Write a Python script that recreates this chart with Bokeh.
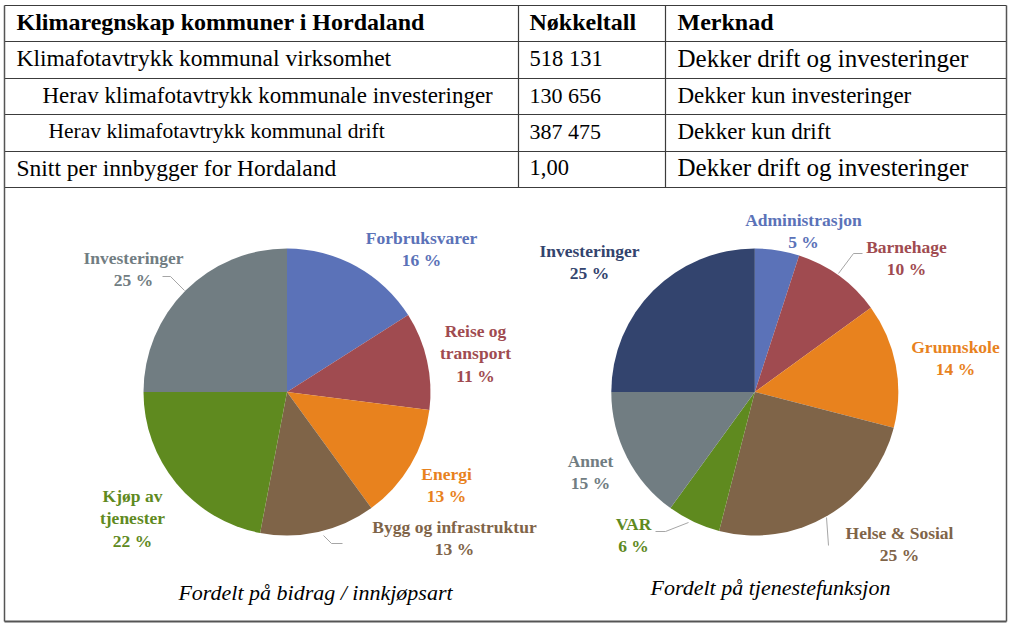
import math
from bokeh.plotting import figure
from bokeh.models import Range1d, ColumnDataSource
from bokeh.core.properties import value
from bokeh.embed import file_html
from bokeh.resources import INLINE

# ---------------- data ----------------
table_header = ["Klimaregnskap kommuner i Hordaland", "Nøkkeltall", "Merknad"]
table_rows = ["Klimafotavtrykk kommunal virksomhet",
              "Herav klimafotavtrykk kommunale investeringer",
              "Herav klimafotavtrykk kommunal drift",
              "Snitt per innbygger for Hordaland"]
table_values = ["518 131", "130 656", "387 475", "1,00"]
table_notes = ["Dekker drift og investeringer", "Dekker kun investeringer",
               "Dekker kun drift", "Dekker drift og investeringer"]

left_title = "Fordelt på bidrag / innkjøpsart"
left_cats = ["Forbruksvarer", "Reise og\ntransport", "Energi",
             "Bygg og infrastruktur", "Kjøp av\ntjenester", "Investeringer"]
left_vals = [16, 11, 13, 13, 22, 25]

right_title = "Fordelt på tjenestefunksjon"
right_cats = ["Administrasjon", "Barnehage", "Grunnskole", "Helse & Sosial",
              "VAR", "Annet", "Investeringer"]
right_vals = [5, 10, 14, 25, 6, 15, 25]

# ---------------- styles ----------------
BLUE, RED, ORANGE, BROWN = "#5B72B8", "#A04B50", "#E8821E", "#7F6448"
GREEN, GRAY, NAVY = "#5F8A1F", "#717D82", "#33446E"
left_colors = [BLUE, RED, ORANGE, BROWN, GREEN, GRAY]
right_colors = [BLUE, RED, ORANGE, BROWN, GREEN, GRAY, NAVY]

W, H = 1008, 623
SERIF = "Liberation Serif"
RIGHT = 1006
BOTTOM = 621


def Y(y):
    return H - y


def fs(px):
    return f"{px:.1f}px"


p = figure(width=W, height=H, x_range=Range1d(0, W), y_range=Range1d(0, H),
           output_backend="svg", toolbar_location=None, min_border=0)
p.axis.visible = False
p.grid.visible = False
p.outline_line_color = None
p.background_fill_color = "white"
p.border_fill_color = "white"

# ---------------- table ----------------
LINE = "#3c3c3c"
hlines = [5, 41, 78, 114, 151, 187]
p.multi_line(xs=[[4, RIGHT]] * len(hlines), ys=[[Y(h), Y(h)] for h in hlines],
             line_color=LINE, line_width=1.2)
p.multi_line(xs=[[518, 518], [665, 665]], ys=[[Y(5), Y(187)]] * 2,
             line_color=LINE, line_width=1.2)
# outer frame
p.multi_line(xs=[[4, 4], [RIGHT, RIGHT]], ys=[[Y(5), Y(BOTTOM)]] * 2,
             line_color="#555555", line_width=1.5)
p.line(x=[4, RIGHT], y=[Y(BOTTOM), Y(BOTTOM)], line_color="#555555", line_width=2)

col_x = [16, 529, 677]
header_y = 21.5
hdr_sizes = [24, 24, 24]
for i, t in enumerate(table_header):
    p.text(x=[col_x[i]], y=[Y(header_y)], text=[t], text_font=value(SERIF),
           text_font_style="bold", text_font_size=fs(hdr_sizes[i]),
           text_baseline="middle", text_align="left", text_color="black")

row_y = [57.5, 94.5, 130.5, 167]
row_indent = [16, 42, 48, 16]
row_size = [23.5, 23, 21.5, 23.5]
val_size = [22.5, 22, 22, 22.5]
note_size = [25, 23, 23, 25]
for i in range(4):
    p.text(x=[row_indent[i]], y=[Y(row_y[i])], text=[table_rows[i]],
           text_font=value(SERIF), text_font_size=fs(row_size[i]),
           text_baseline="middle", text_color="black")
    p.text(x=[col_x[1]], y=[Y(row_y[i])], text=[table_values[i]],
           text_font=value(SERIF), text_font_size=fs(val_size[i]),
           text_baseline="middle", text_color="black")
    p.text(x=[col_x[2]], y=[Y(row_y[i])], text=[table_notes[i]],
           text_font=value(SERIF), text_font_size=fs(note_size[i]),
           text_baseline="middle", text_color="black")


# ---------------- pies ----------------
def pie(cx, cy, r, vals, colors):
    total = float(sum(vals))
    starts, ends = [], []
    cum = 0.0
    for v in vals:
        starts.append(math.pi / 2 - 2 * math.pi * cum / total)
        cum += v
        ends.append(math.pi / 2 - 2 * math.pi * cum / total)
    src = ColumnDataSource(dict(x=[cx] * len(vals), y=[Y(cy)] * len(vals),
                                start=starts, end=ends, color=colors))
    p.wedge(x="x", y="y", radius=r, start_angle="start", end_angle="end",
            direction="clock", fill_color="color", line_color=None, source=src)


pie(286.5, 391.5, 143.5, left_vals, left_colors)
pie(754.3, 391.5, 143.5, right_vals, right_colors)

LBL = 17.5


def labels(cats, vals, colors, pos):
    for c, v, col, (lx, ly) in zip(cats, vals, colors, pos):
        lines = c.split("\n") + [f"{v} %"]
        for k, ln in enumerate(lines):
            p.text(x=[lx], y=[Y(ly - 1.5 + k * 22.3)], text=[ln], text_font=value(SERIF),
                   text_font_style="bold", text_font_size=fs(LBL),
                   text_align="center", text_baseline="middle", text_color=col)


left_pos = [(421, 239), (475, 332), (446, 475), (454, 528), (132, 497), (133, 259)]
right_pos = [(803, 221), (906, 248), (955, 348), (899, 534), (633, 525),
             (590, 462), (589, 252)]
labels(left_cats, left_vals, left_colors, left_pos)
labels(right_cats, right_vals, right_colors, right_pos)

# leader lines
LEAD = "#A6A6A6"
leaders_x = [[162, 170, 184], [323, 331, 342], [862, 853, 838], [826, 828], [655, 665, 688]]
leaders_y = [[276, 276, 290], [535, 543, 543], [253, 253, 273], [517, 545], [531, 531, 522]]
p.multi_line(xs=leaders_x, ys=[[Y(v) for v in ys] for ys in leaders_y],
             line_color=LEAD, line_width=1)

# captions
p.text(x=[315], y=[Y(592)], text=[left_title], text_font=value(SERIF),
       text_font_style="italic", text_font_size=fs(22), text_align="center",
       text_baseline="middle", text_color="black")
p.text(x=[770], y=[Y(587)], text=[right_title], text_font=value(SERIF),
       text_font_style="italic", text_font_size=fs(22), text_align="center",
       text_baseline="middle", text_color="black")

open("out.html", "w").write(file_html(p, INLINE))
